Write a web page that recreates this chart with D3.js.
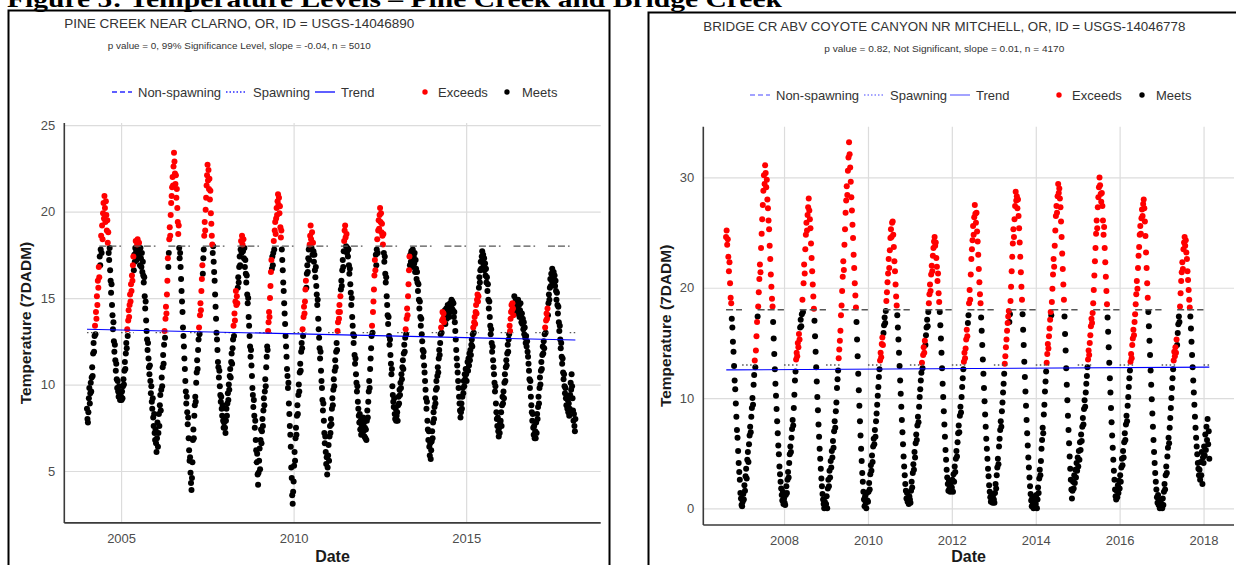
<!DOCTYPE html>
<html>
<head>
<meta charset="utf-8">
<script src="https://cdn.jsdelivr.net/npm/d3@7"></script>
<style>
body{margin:0;background:#fff}
svg{display:block}
text{font-family:"Liberation Sans",Arial,sans-serif}
</style>
</head>
<body>
<svg width="1236" height="565"></svg>
<script>
// ---- data: 7DADM temperatures sampled every 5 days from Jan 1 of each year ----
const stepDays = 5;
const spawnCrit = 13;
const nonSpawnCrit = 18;

// Pine Creek near Clarno (first year starts at sample index 1)
const pineYears = [2004,2005,2006,2007,2008,2009,2010,2011,2012,2013,2014,2015,2016,2017,2018];
const pineFirstIndex = 1;
const pine2004 = [8.6,8.0,7.8,8.4,9.2, 9.8,8.9,9.5,10.1,9.6,10.4, 11.0,10.5,11.8,12.4,11.9,12.8, 13.4,12.9,14.2,13.8,15.1,14.6, 16.0,15.6,16.8, 16.2,17.4,16.9, 17.8,18.6,17.6,19.2,18.4,19.9, 20.5,19.6,20.9,20.2,19.4,20.6, 19.8,18.9,19.5,18.2,18.8,17.6, 17.2,17.9,16.6,16.0,15.3,15.8, 14.6,14.0,13.2,13.6,12.5,11.9, 12.3,11.4,10.8,11.2,10.3,9.8, 10.2,9.6,9.3,9.9,9.4,9.1,9.5];
const pine2005 = [9.3,9.1,9.6,9.2,9.9,10.3, 10.0,10.8,11.3,10.9,11.8,12.4, 12.1,13.2,12.8,13.7,14.3,13.9, 14.6,15.2,14.8,15.8,15.4,16.3, 16.0,16.9,17.4, 16.6,17.5,17.1, 17.9,18.3,17.7,17.2,18.1,18.4, 17.8,17.4,18.2,17.6,16.9,17.9, 17.3,16.8,17.6,16.5,17.1,16.3, 15.9,16.2,15.1,14.4,14.8,13.7, 13.1,12.6,12.0,12.4,11.5,11.0, 10.6,11.1,10.2,9.5,9.9,9.0, 8.6,9.2,8.1,7.6,8.3,7.2,6.8];
const pine2006 = [7.4,6.6,6.1,6.9,7.8,6.4, 7.2,8.3,7.6,8.8,9.4,8.5, 9.7,10.4,9.9,11.0,11.7,11.2, 12.3,13.1,12.7,13.8,14.5,14.1, 15.2,16.0,17.3, 16.8,17.6,18.4, 19.1,18.6,19.8,20.5,20.9,21.4, 22.0,21.5,22.6,23.4,22.9,22.2, 21.6,22.1,20.8,21.3,20.2,19.4, 18.7,19.2,17.9,17.3,17.6,16.8, 16.1,15.4,14.8,14.2,13.3,12.8, 12.2,11.5,10.9,10.2,9.6,8.9, 9.3,8.4,7.7,8.1,6.9,6.2,5.6];
const pine2007 = [5.8,4.9,4.3,3.9,4.6,5.5, 6.8,7.4,6.9,8.2,8.8,9.3, 9.0,10.1,10.7,11.4,10.9,12.0, 12.6,13.3,12.9,14.0,14.7,14.3, 15.4,16.1,16.9, 16.4,17.3,17.8, 18.6,19.4,18.9,20.1,20.8,21.5, 22.1,22.7,21.8,22.4,21.3,21.9, 20.7,21.2,19.9,19.3,18.6,18.1, 17.6,18.0,17.1,16.5,16.0,15.2, 14.5,13.8,13.0,12.6,12.0,11.3, 11.0,10.4,10.8,9.9,9.4,9.0, 9.3,8.6,8.2,8.8,7.9,7.5,7.8];
const pine2008 = [8.1,7.5,7.2,7.9,8.6,8.2, 8.9,9.5,9.1,10.0,9.7,10.5, 10.9,10.4,11.3,11.8,11.2,12.1, 12.6,13.4,12.8,14.1,13.7,14.8, 15.4,14.6,15.1, 14.7,15.6,16.2, 15.9,16.8,17.4,16.9,17.8,18.3, 17.6,18.6,18.1,17.7,18.4,17.3, 17.9,16.8,17.2,16.4,15.9,16.3, 15.2,14.7,15.0,13.9,13.4,12.8, 12.2,11.6,12.0,11.1,10.5,9.8, 9.4,8.7,9.1,8.2,7.5,7.9, 6.8,6.2,5.5,6.0,4.8,4.2,4.9];
const pine2009 = [5.6,6.3,5.1,6.8,7.4,6.6, 7.3,8.0,7.6,8.5,9.2,8.8, 9.6,10.3,9.9,11.0,11.6,12.2, 12.0,13.1,13.6,14.2,13.9,15.0, 15.7,16.5,17.2, 16.7,17.4,16.9, 17.6,18.3,17.8,18.9,19.4,18.7, 19.6,20.2,19.8,20.6,21.0,20.4, 20.8,19.9,20.3,19.1,18.5,18.9, 17.8,17.2,16.6,15.9,15.4,14.7, 14.1,13.5,12.8,12.2,11.6,10.9, 10.5,9.8,10.1,8.9,8.3,7.6, 7.1,6.4,5.2,4.6,3.6,3.1,3.8];
const pine2010 = [4.4,5.3,6.1,5.6,6.9,7.5, 7.1,8.2,8.8,8.3,9.4,10.0, 9.6,10.7,11.2,10.8,11.9,12.4, 12.1,13.2,12.8,13.9,14.5,14.1, 14.8,15.5,16.0, 15.6,16.4,16.9, 16.5,17.3,17.8,17.2,18.1,18.6, 19.2,18.4,17.9,18.8,17.5,18.2, 17.7,17.1,17.5,16.6,16.2,16.8, 15.7,15.2,14.6,14.9,13.8,13.2, 12.7,12.1,11.5,11.9,10.8,10.2, 9.8,9.1,8.5,8.9,7.9,7.2, 6.6,7.0,6.1,5.4,5.8,4.8,5.2];
const pine2011 = [5.9,6.5,5.6,7.0,7.6,7.2, 8.0,7.7,8.6,9.2,8.8,9.7, 10.3,9.9,10.8,11.4,11.0,11.9, 12.4,12.0,13.1,13.6,14.2,13.8, 14.6,14.2,15.1, 15.5,16.0,15.7, 16.6,17.2,16.8,17.7,18.3,18.9, 19.2,18.5,18.0,18.7,17.6,17.9, 17.4,17.8,16.9,16.4,16.7,15.8, 15.3,14.6,15.0,13.9,13.4,12.9, 12.4,12.8,11.7,11.2,11.5,10.6, 10.1,9.6,9.9,9.0,8.6,8.2, 7.8,8.3,7.4,7.9,7.1,7.6,7.2];
const pine2012 = [7.6,8.1,7.3,7.8,7.0,7.5, 6.9,7.4,6.8,7.9,8.5,8.1, 9.0,9.6,10.2,9.8,10.9,11.5, 12.1,12.8,13.4,13.0,14.2,14.8, 15.5,16.3,17.2, 16.6,17.5,16.9, 17.8,18.4,17.6,18.9,19.5,19.0, 19.8,20.2,19.4,19.9,18.8,19.3, 18.6,18.1,18.7,17.6,17.1,17.4, 16.4,15.9,16.2,15.1,14.6,14.0, 13.5,13.9,12.8,12.3,12.6,11.7, 11.2,10.6,10.9,9.9,9.4,9.0, 8.7,9.2,8.3,8.0,8.6,7.9,8.2];
const pine2013 = [8.4,7.9,8.8,9.3,8.9,9.7, 9.4,10.1,9.8,10.6,10.3,11.0, 11.4,10.9,11.8,12.3,11.9,12.7, 13.2,12.9,13.8,14.4,14.0,15.1, 15.8,16.6,17.4, 16.9,17.5,17.1, 17.7,16.8,17.3,17.8,16.9,17.4, 17.0,17.6,16.5,17.2,16.7,16.1, 16.5,15.9,15.4,15.8,14.9,14.4, 14.8,13.9,13.4,13.8,12.9,12.5, 12.0,11.6,11.9,11.1,10.7,10.2, 9.7,9.2,8.6,9.0,7.9,7.4, 6.8,7.3,6.4,5.9,6.6,5.7,6.2];
const pine2014 = [6.7,7.3,6.9,7.8,8.4,8.0, 8.7,9.2,8.9,9.7,10.2,9.8, 10.5,11.0,10.7,11.5,12.0,11.7, 12.4,12.9,13.3,13.0,13.7,14.2, 13.8,14.1,13.6, 13.9,14.3,13.5, 14.0,14.4,13.8,14.2,14.6,14.1, 14.5,13.9,14.3,14.7,14.2,14.6, 14.9,14.4,14.8,14.3,14.7,13.9, 14.2,13.6,13.1,12.6,12.0,11.5, 11.1,10.7,10.2,9.8,9.3,8.9, 8.5,8.1,8.4,8.9,8.6,9.3, 9.8,9.5,10.2,9.9,10.6,10.3,10.9];
const pine2015 = [10.6,10.2,10.9,11.3,10.8,11.5, 11.1,11.8,11.4,12.0,11.7,12.3, 12.6,12.2,12.9,13.3,13.0,13.6, 13.9,13.5,14.2,14.6,14.1,14.9, 15.2,14.8,15.1, 15.6,16.2,15.9, 16.6,17.1,16.7,17.4,17.7,17.2, 17.5,16.9,17.3,16.6,17.0,16.3, 16.7,15.9,16.2,15.4,15.8,14.9, 14.4,14.8,13.9,13.4,12.9,13.2, 12.4,11.9,12.2,11.4,11.0,10.6, 10.1,9.6,9.9,8.9,8.4,8.0, 7.6,8.1,7.3,7.0,7.5,7.2,7.8];
const pine2016 = [7.9,8.4,7.6,8.8,9.3,8.9, 9.6,9.2,10.1,10.6,10.2,11.0, 11.4,11.1,11.8,12.3,11.9,12.6, 12.9,13.4,13.1,13.8,14.2,14.6, 14.3,14.7,14.4, 14.0,14.6,15.1, 14.7,14.3,14.9,14.5,14.1,14.8, 14.4,14.9,14.2,14.6,13.9,14.3, 14.7,14.0,13.6,14.1,13.5,13.8, 13.2,13.6,12.9,13.3,12.7,12.4, 12.8,12.2,12.5,11.9,11.6,11.2, 10.8,10.3,9.8,10.2,9.3,8.8, 8.4,7.9,8.3,7.5,7.1,7.6,6.9];
const pine2017 = [7.3,6.9,7.8,7.2,8.3,8.0, 8.7,9.3,8.9,9.8,10.4,10.0, 10.8,11.3,10.9,11.7,12.2,11.8, 12.5,12.1,12.9,13.3,13.0,13.7, 14.1,13.8,14.4, 14.0,14.7,15.2, 14.9,15.6,16.1,15.7,16.4,16.0, 16.7,16.2,15.8,16.5,15.9,16.3, 15.7,16.0,15.4,14.9,15.3,14.6, 14.1,14.5,13.6,13.1,13.4,12.6, 12.1,12.4,11.6,11.2,11.5,10.7, 10.3,10.6,9.9,9.5,9.8,9.2, 8.8,9.3,8.6,9.1,8.4,8.9,8.2];
const pine2018 = [8.6,9.4,10.1,9.7,10.6,9.9, 9.2,8.5,7.9,8.3,7.6,7.3, 8.0];
const pineSeries = [pine2004,pine2005,pine2006,pine2007,pine2008,pine2009,pine2010,pine2011,pine2012,pine2013,pine2014,pine2015,pine2016,pine2017,pine2018];
const pineTrendDates = [new Date(2004,0,6), new Date(2018,2,2)];
const pineTrendValues = [13.2, 12.57];

// Bridge Creek above Coyote Canyon (first year starts at sample index 45)
const bridgeYears = [2006,2007,2008,2009,2010,2011,2012,2013,2014,2015,2016,2017,2018];
const bridgeFirstIndex = 45;
const bridge2006 = [24.6,25.2,23.9, 24.4,22.8,21.5,22.3,20.4,19.1, 18.6,17.2,16.4,15.1,14.2,12.9, 11.6,10.8,9.5,8.3,7.1,6.4, 5.2,4.1,3.3,2.6,1.4,0.9,0.3];
const bridge2007 = [0.2,0.6,1.3,0.8,2.1,1.6, 2.9,3.6,2.7,4.4,5.1,4.2, 5.8,6.6,7.4,6.9,8.3,9.1, 10.0,9.4,11.2,12.1,13.4,12.8, 14.3,15.6,16.9, 17.4,18.3,19.6, 20.8,22.1,21.4,23.6,24.9,26.2, 27.5,28.8,30.2,29.4,31.1,30.4, 29.1,29.8,28.0,27.2,26.1,25.3, 23.8,22.6,21.2,20.1,19.0,18.3, 16.9,15.4,14.0,12.6,11.3,10.2, 9.0,7.9,6.8,5.7,4.9,3.8, 3.1,2.4,1.8,1.2,0.7,1.5,0.4];
const bridge2008 = [0.9,0.5,0.3,1.2,2.0,1.4, 2.6,3.3,2.8,4.1,4.9,5.6, 5.1,6.4,7.2,8.0,7.5,9.1, 10.3,11.6,12.4,13.5,14.1,13.8, 15.0,14.6,15.8, 15.3,16.4,17.1, 16.5,17.6,18.9,17.8,20.4,22.1, 21.3,23.5,24.8,25.9,25.2,26.6, 27.3,28.1,27.0,26.2,25.4,24.0, 22.7,21.5,20.3,19.2,18.1,17.0, 15.6,14.2,12.8,11.5,10.1,8.9, 7.6,6.5,5.4,4.5,3.6,2.7, 2.0,1.3,0.8,0.4,0.0,0.6,0.2];
const bridge2009 = [0.4,1.1,0.0,1.8,2.6,2.0, 3.4,2.8,4.3,3.7,5.2,4.6, 6.1,5.5,7.0,7.9,7.3,8.8, 9.6,10.9,11.7,12.5,13.6,14.4, 15.2,16.1,17.5, 18.4,19.7,21.0, 22.4,21.6,23.9,25.3,26.8,27.9, 29.2,28.4,30.6,31.8,33.2,32.1, 30.9,29.6,28.2,27.0,25.7,24.5, 23.0,21.8,20.4,19.3,18.2,16.9, 15.3,13.8,12.2,10.7,9.3,7.9, 6.6,5.4,4.3,3.2,2.4,1.5, 0.8,0.2,1.1,0.5,0.0,1.4,0.7];
const bridge2010 = [0.6,1.5,2.3,1.7,3.1,3.9, 3.4,4.8,4.2,5.6,6.3,5.8, 7.1,6.5,7.9,8.6,9.4,10.2, 11.0,11.9,12.6,13.4,14.1,13.7, 14.9,15.5,14.8, 15.9,16.6,17.3, 16.8,17.9,18.8,19.6,20.5,21.3, 22.6,21.8,23.4,24.5,25.3,24.6, 25.9,26.0,24.8,23.7,22.4,21.5, 20.3,19.2,18.4,17.5,16.4,15.3, 14.1,12.9,11.6,10.4,9.2,8.0, 6.9,5.8,4.7,3.8,3.0,2.2, 1.6,0.9,1.4,0.6,0.9,0.4,1.1];
const bridge2011 = [0.8,0.5,1.6,2.4,1.9,3.2, 4.0,3.5,5.1,4.6,5.9,6.7, 6.2,7.5,8.3,7.8,9.2,10.1, 10.8,11.6,12.3,13.2,12.7,13.9, 14.6,14.1,15.2, 14.8,15.7,16.4, 17.1,16.5,17.8,18.6,19.4,20.3, 19.7,21.2,22.0,21.5,22.9,23.6, 24.2,24.6,23.8,24.1,22.7,21.9, 20.6,21.3,19.5,18.7,17.8,16.6, 15.4,14.1,12.7,11.3,10.1,8.8, 7.6,6.5,5.3,4.4,3.5,2.8, 2.2,1.6,2.5,1.8,1.5,2.3,1.7];
const bridge2012 = [1.9,2.6,1.5,3.1,2.4,3.8, 3.3,4.5,5.2,4.7,6.0,6.8, 7.5,6.9,8.4,9.2,8.7,10.1, 11.0,11.8,12.6,13.3,14.1,13.6, 14.5,15.3,16.2, 15.6,16.8,17.5, 18.6,19.8,18.9,21.2,22.6,23.5, 24.3,25.6,24.8,26.4,27.5,26.7, 25.9,26.8,25.1,24.2,23.0,21.7, 20.5,19.4,18.6,17.3,16.1,14.8, 13.5,12.2,10.9,9.7,8.5,7.4, 6.3,5.4,4.5,3.6,2.9,2.1, 1.5,1.0,0.6,1.3,0.8,0.5,1.2];
const bridge2013 = [0.8,0.5,1.4,2.2,1.8,3.0, 3.7,4.5,4.0,5.6,6.3,7.1, 7.9,7.4,8.8,9.6,10.5,11.3, 12.2,13.1,13.8,14.6,15.3,16.1, 16.8,17.4,17.9, 16.9,17.6,18.8, 20.1,21.5,22.8,24.0,25.3,24.6, 26.2,27.4,28.7,27.9,28.3,27.2, 28.0,26.5,25.4,24.1,22.8,21.4, 20.1,18.9,17.6,16.2,14.8,13.3, 11.9,10.6,9.3,8.0,6.8,5.7, 4.6,3.7,2.8,2.0,1.3,0.7, 0.2,1.0,0.4,0.0,0.8,0.3,1.1];
const bridge2014 = [0.4,1.2,0.0,0.8,1.9,1.4, 2.7,3.5,3.0,4.3,5.4,6.2, 7.3,6.8,8.5,9.4,10.6,11.5, 12.4,13.2,14.0,14.9,14.5,15.6, 16.3,17.1,17.8, 17.5,18.7,19.9, 21.2,22.6,21.9,23.8,25.2,26.5, 27.4,26.8,28.3,29.4,28.6,29.0, 28.1,27.3,26.0,24.6,23.1,21.7, 20.3,18.9,17.4,15.8,14.3,12.7, 11.2,9.8,8.4,7.1,5.9,4.7, 3.6,2.6,1.7,0.9,1.6,2.4, 1.8,3.0,2.3,3.5,2.8,4.1,3.4];
const bridge2015 = [4.6,3.8,5.2,4.4,6.0,5.3, 6.7,6.1,7.4,8.2,7.6,9.0, 9.8,9.2,10.5,11.3,12.0,12.8, 13.5,14.3,13.9,15.0,15.7,16.5, 17.2,16.8,17.7, 18.6,19.8,21.1, 22.4,23.6,24.9,26.1,25.4,27.3, 28.2,29.1,30.0,29.3,28.5,27.8, 28.6,27.4,26.1,24.8,25.5,23.6, 22.3,21.0,19.7,18.5,17.3,16.0, 14.6,13.2,11.8,10.5,9.1,7.8, 6.6,5.5,4.4,3.4,2.6,1.7, 1.1,0.8,1.6,1.0,2.1,1.4,2.5];
const bridge2016 = [1.8,3.0,2.4,3.7,4.5,3.9, 5.2,4.6,6.0,6.8,6.2,7.6, 8.4,7.9,9.3,10.1,11.0,11.8, 12.5,13.3,14.0,13.6,14.8,15.4, 16.2,15.7,16.9, 17.6,18.5,19.4, 20.6,19.9,21.8,22.9,23.7,24.8, 25.6,24.9,26.3,27.1,26.5,27.6, 28.0,27.2,26.0,24.7,23.2,21.8, 20.4,19.1,17.8,16.5,15.2,13.9, 12.5,11.2,9.9,8.6,7.4,6.2, 5.1,4.1,3.2,2.4,1.7,1.0, 0.5,1.2,0.3,0.8,0.0,0.6,0.2];
const bridge2017 = [0.4,0.0,0.9,0.3,1.5,2.2, 1.7,3.0,3.8,3.2,4.7,5.5, 6.4,5.9,7.3,8.2,9.1,10.0, 10.9,11.8,12.6,13.4,14.2,13.8, 14.6,14.1,15.3, 14.8,15.9,16.7, 17.4,16.9,18.3,19.5,20.6,21.4, 22.3,21.7,23.5,24.1,24.6,23.8, 24.3,23.2,22.6,21.5,20.7,19.8, 18.9,18.2,17.4,16.3,15.1,13.9, 12.8,11.6,10.5,9.4,8.3,7.3, 6.4,5.6,4.9,4.1,3.6,3.0, 3.5,2.6,4.2,3.0,5.1,2.2,4.6];
const bridge2018 = [4.1,5.6,4.8,6.7,5.3,7.4, 6.2,8.1,5.8,7.0,4.5];
const bridgeSeries = [bridge2006,bridge2007,bridge2008,bridge2009,bridge2010,bridge2011,bridge2012,bridge2013,bridge2014,bridge2015,bridge2016,bridge2017,bridge2018];
const bridgeTrendDates = [new Date(2006,7,16), new Date(2018,1,20)];
const bridgeTrendValues = [12.55, 12.8];

const legendLabels = ['Non-spawning','Spawning','Trend','Exceeds','Meets'];

// ---- helpers ----
const svg = d3.select('svg');
const isSpawning = d => d.getMonth() < 4 || (d.getMonth() === 4 && d.getDate() <= 15);

const buildPoints = (years, series, firstIndex) => {
	const pts = [];
	years.forEach((yr, k) => {
		const start = k === 0 ? firstIndex : 0;
		series[k].forEach((v, j) => {
			const date = new Date(yr, 0, 1 + stepDays * (start + j));
			const crit = isSpawning(date) ? spawnCrit : nonSpawnCrit;
			pts.push({date: date, value: v, exceeds: v > crit});
		});
	});
	return pts;
};

const critSegments = pts => {
	const first = pts[0].date, last = pts[pts.length - 1].date;
	const segs = [];
	for (let y = first.getFullYear(); y <= last.getFullYear(); y++) {
		[
			{a: new Date(y,0,1), b: new Date(y,4,15), value: spawnCrit, spawn: true},
			{a: new Date(y,4,16), b: new Date(y,11,31), value: nonSpawnCrit, spawn: false}
		].forEach(p => {
			const a = p.a < first ? first : p.a;
			const b = p.b > last ? last : p.b;
			if (a < b) segs.push({a: a, b: b, value: p.value, spawn: p.spawn});
		});
	}
	return segs;
};

const render = cfg => {
	const xScale = d3.scaleTime().domain(cfg.xDomain).range([cfg.left, cfg.right]);
	const yScale = d3.scaleLinear().domain(cfg.yDomain).range([cfg.bottom, cfg.top]);
	const g = svg.append('g');

	// grid + tick labels
	const yAxis = g.append('g').attr('transform', `translate(${cfg.left},0)`)
		.call(d3.axisLeft(yScale).tickValues(cfg.yTicks).tickSize(-(cfg.right - cfg.left)).tickPadding(9));
	const xAxis = g.append('g').attr('transform', `translate(0,${cfg.bottom})`)
		.call(d3.axisBottom(xScale).ticks(d3.timeYear.every(cfg.xEvery)).tickFormat(d3.timeFormat('%Y'))
			.tickSize(-(cfg.bottom - cfg.top)).tickPadding(11));
	[yAxis, xAxis].forEach(a => {
		a.select('.domain').remove();
		a.selectAll('.tick line').attr('stroke', '#dcdcdc').attr('stroke-width', 1.2);
		a.selectAll('.tick text').attr('fill', '#4d4d4d').style('font-size', '13px')
			.style('font-family', '"Liberation Sans",Arial,sans-serif');
	});

	// points
	const pts = buildPoints(cfg.years, cfg.series, cfg.firstIndex);
	const ordered = pts.filter(d => !d.exceeds).concat(pts.filter(d => d.exceeds));
	g.selectAll('circle.pt').data(ordered).enter().append('circle')
		.attr('class', 'pt')
		.attr('cx', d => xScale(d.date))
		.attr('cy', d => yScale(d.value))
		.attr('r', 3)
		.attr('fill', d => d.exceeds ? '#ff0000' : '#000000');

	// criteria lines
	g.selectAll('line.crit').data(critSegments(pts)).enter().append('line')
		.attr('x1', d => xScale(d.a)).attr('x2', d => xScale(d.b))
		.attr('y1', d => yScale(d.value)).attr('y2', d => yScale(d.value))
		.attr('stroke', '#555')
		.attr('stroke-width', 1.4)
		.attr('stroke-dasharray', d => d.spawn ? '1.5,2.5' : '7,3');

	// trend
	const trend = cfg.trendDates.map((d, i) => ({date: d, value: cfg.trendValues[i]}));
	g.append('path').datum(trend)
		.attr('d', d3.line().x(d => xScale(d.date)).y(d => yScale(d.value)))
		.attr('fill', 'none').attr('stroke', '#0000ff').attr('stroke-width', 1.1);

	// axis lines
	g.append('line').attr('x1', cfg.left).attr('x2', cfg.left).attr('y1', cfg.top).attr('y2', cfg.bottom)
		.attr('stroke', '#3a3a3a').attr('stroke-width', 1.6);
	g.append('line').attr('x1', cfg.left).attr('x2', cfg.right).attr('y1', cfg.bottom).attr('y2', cfg.bottom)
		.attr('stroke', '#3a3a3a').attr('stroke-width', 1.6);

	// axis titles
	g.append('text').attr('x', (cfg.left + cfg.right) / 2).attr('y', cfg.dateY)
		.attr('text-anchor', 'middle').style('font-size', '16px').style('font-weight', 'bold')
		.attr('fill', '#1a1a1a').text('Date');
	g.append('text').attr('transform', `translate(${cfg.yTitleX},${(cfg.top + cfg.bottom) / 2}) rotate(-90)`)
		.attr('text-anchor', 'middle').style('font-size', '15.5px').style('font-weight', 'bold')
		.attr('fill', '#1a1a1a').text('Temperature (7DADM)');

	// titles
	g.append('text').attr('x', cfg.left).attr('y', cfg.titleY)
		.attr('textLength', cfg.titleW).attr('lengthAdjust', 'spacingAndGlyphs')
		.style('font-size', '13.5px').attr('fill', '#333').text(cfg.title);
	g.append('text').attr('x', cfg.left + cfg.titleW / 2).attr('y', cfg.titleY + 21)
		.attr('text-anchor', 'middle').attr('textLength', cfg.subW).attr('lengthAdjust', 'spacingAndGlyphs')
		.style('font-size', '9px').attr('fill', '#333').text(cfg.subtitle);

	// legend
	const L = cfg.legend, ly = cfg.legendY;
	const keys = [
		{x: L[0], dash: '5,3'}, {x: L[2], dash: '1.5,2'}, {x: L[4], dash: null}
	];
	keys.forEach(k => {
		g.append('line').attr('x1', k.x).attr('x2', k.x + 20).attr('y1', ly).attr('y2', ly)
			.attr('stroke', cfg.legendBlue).attr('stroke-width', 1.5)
			.attr('stroke-dasharray', k.dash);
	});
	g.append('circle').attr('cx', L[6]).attr('cy', ly).attr('r', 2.7).attr('fill', '#ff0000');
	g.append('circle').attr('cx', L[8]).attr('cy', ly).attr('r', 2.7).attr('fill', '#000');
	[L[1], L[3], L[5], L[7], L[9]].forEach((x, i) => {
		g.append('text').attr('x', x).attr('y', ly + 4.6).style('font-size', '13px')
			.attr('fill', '#333').text(legendLabels[i]);
	});
};

// figure caption (cut at the top of the page)
svg.append('text').attr('x', 7).attr('y', 7)
	.attr('textLength', 775).attr('lengthAdjust', 'spacingAndGlyphs')
	.style('font-family', '"Liberation Serif","Times New Roman",serif')
	.style('font-size', '24px').style('font-weight', 'bold')
	.text('Figure 5: Temperature Levels \u2013 Pine Creek and Bridge Creek');

// frames
svg.append('rect').attr('x', 8.5).attr('y', 10.5).attr('width', 601).attr('height', 600)
	.attr('fill', 'none').attr('stroke', '#000').attr('stroke-width', 2);
svg.append('rect').attr('x', 648.5).attr('y', 12.5).attr('width', 620).attr('height', 600)
	.attr('fill', 'none').attr('stroke', '#000').attr('stroke-width', 2);

render({
	years: pineYears, series: pineSeries, firstIndex: pineFirstIndex,
	trendDates: pineTrendDates, trendValues: pineTrendValues,
	xDomain: [new Date(2003,4,11), new Date(2018,10,25)], xEvery: 5,
	yDomain: [2, 25.12], yTicks: [5,10,15,20,25],
	left: 64.3, right: 600.7, top: 123, bottom: 522.9,
	dateY: 561.5, yTitleX: 31,
	title: 'PINE CREEK NEAR CLARNO, OR, ID = USGS-14046890', titleW: 350, titleY: 27.5,
	subtitle: 'p value = 0, 99% Significance Level, slope = -0.04, n = 5010', subW: 263,
	legendY: 92, legend: [112, 138, 226, 253, 315, 341, 425, 438, 507, 522],
	legendBlue: '#2a2aff'
});

render({
	years: bridgeYears, series: bridgeSeries, firstIndex: bridgeFirstIndex,
	trendDates: bridgeTrendDates, trendValues: bridgeTrendValues,
	xDomain: [new Date(2006,0,28), new Date(2018,8,23)], xEvery: 2,
	yDomain: [-1.51, 34.6], yTicks: [0,10,20,30],
	left: 703.3, right: 1234, top: 126.7, bottom: 525,
	dateY: 562, yTitleX: 671,
	title: 'BRIDGE CR ABV COYOTE CANYON NR MITCHELL, OR, ID = USGS-14046778', titleW: 482, titleY: 31,
	subtitle: 'p value = 0.82, Not Significant, slope = 0.01, n = 4170', subW: 240,
	legendY: 95, legend: [750, 776, 864, 890, 950, 976, 1059, 1072, 1142, 1156],
	legendBlue: '#8484ff'
});
</script>
</body>
</html>
